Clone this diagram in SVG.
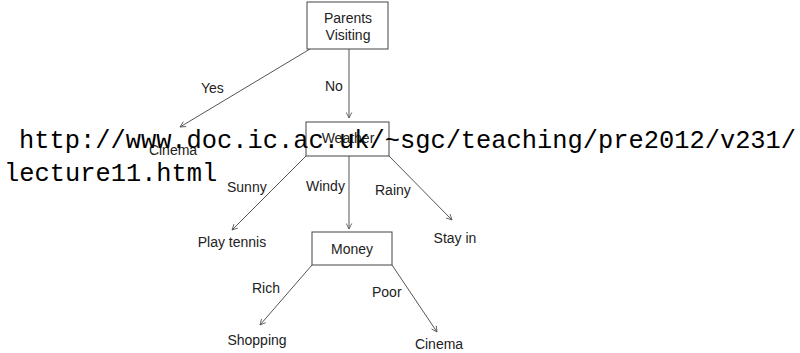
<svg xmlns="http://www.w3.org/2000/svg" width="800" height="353" viewBox="0 0 800 353">
  <style>
    .box { fill: #fff; stroke: #444; stroke-width: 1; }
    .edge { stroke: #555; stroke-width: 1; fill: none; marker-end: url(#arrow); }
    .lbl { font-family: "Liberation Sans", Arial, sans-serif; font-size: 14px; fill: #222; }
    .c { text-anchor: middle; }
    .url { font-family: "Liberation Mono", "Courier New", monospace; font-size: 25.4px; fill: #000; }
  </style>
  <defs>
    <marker id="arrow" viewBox="0 0 10 10" refX="9" refY="5" markerWidth="7" markerHeight="7" orient="auto" markerUnits="userSpaceOnUse">
      <path d="M1,1 L9,5 L1,9" fill="none" stroke="#555" stroke-width="1.2"/>
    </marker>
  </defs>
  <rect width="800" height="353" fill="#fff"/>

  <g id="connectors">
    <line class="edge" x1="310" y1="49" x2="180" y2="127"/>
    <line class="edge" x1="349" y1="49" x2="349" y2="118"/>
    <line class="edge" x1="306" y1="156" x2="232" y2="230"/>
    <line class="edge" x1="349" y1="156" x2="349" y2="229"/>
    <line class="edge" x1="389" y1="156" x2="452" y2="220"/>
    <line class="edge" x1="312" y1="265" x2="260" y2="325"/>
    <line class="edge" x1="392" y1="265" x2="437" y2="332"/>
    <text class="lbl" x="201" y="93">Yes</text>
    <text class="lbl" x="325" y="91">No</text>
    <text class="lbl" x="227" y="192">Sunny</text>
    <text class="lbl" x="306" y="191">Windy</text>
    <text class="lbl" x="375" y="195">Rainy</text>
    <text class="lbl" x="252" y="293">Rich</text>
    <text class="lbl" x="372" y="297">Poor</text>
  </g>

  <g id="parents-visiting">
    <rect class="box" x="307" y="2" width="81" height="47"/>
    <text class="lbl c" x="348" y="23">Parents</text>
    <text class="lbl c" x="348" y="40">Visiting</text>
  </g>

  <g id="cinema-top">
    <text class="lbl c" x="173" y="155" fill="#444">Cinema</text>
  </g>

  <g id="weather">
    <rect class="box" x="306" y="122" width="83" height="34"/>
    <text class="lbl c" x="348" y="143">Weather</text>
  </g>

  <g id="play-tennis">
    <text class="lbl c" x="232" y="247">Play tennis</text>
  </g>

  <g id="stay-in">
    <text class="lbl c" x="455" y="243">Stay in</text>
  </g>

  <g id="money">
    <rect class="box" x="312" y="232" width="80" height="33"/>
    <text class="lbl c" x="352" y="254">Money</text>
  </g>

  <g id="shopping">
    <text class="lbl c" x="257" y="345">Shopping</text>
  </g>

  <g id="cinema-bottom">
    <text class="lbl c" x="439" y="349">Cinema</text>
  </g>

  <g id="source-url">
    <text class="url" x="19" y="148">http://www.doc.ic.ac.uk/~sgc/teaching/pre2012/v231/</text>
    <text class="url" x="4" y="181">lecture11.html</text>
  </g>
</svg>
